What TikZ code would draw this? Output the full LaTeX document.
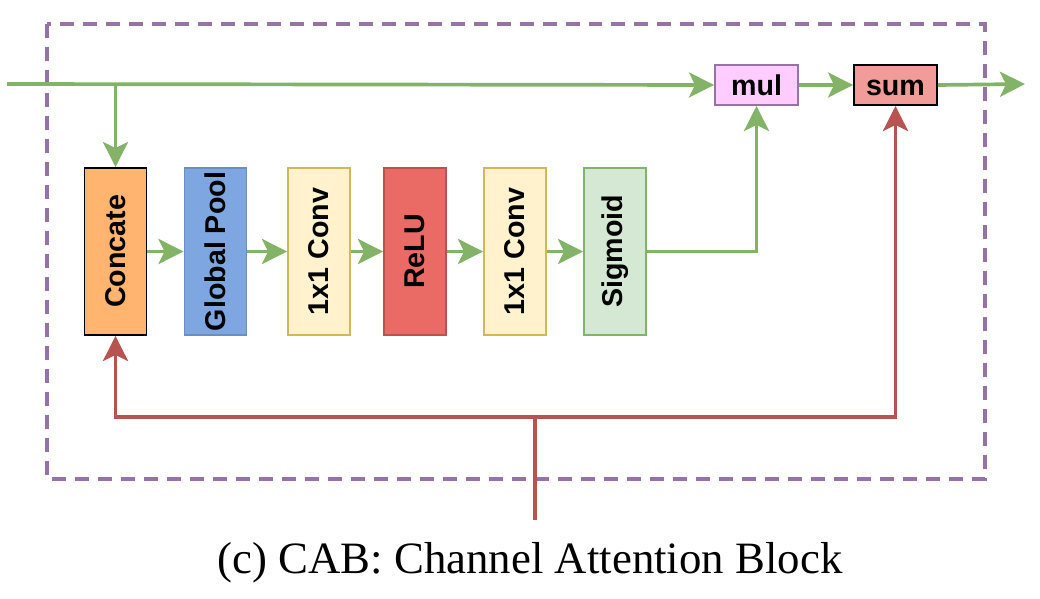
\documentclass[tikz,border=0pt]{standalone}
\usepackage{fontspec}
\setmainfont{Liberation Serif}
\setsansfont{Liberation Sans}
\usetikzlibrary{positioning,arrows.meta}
\definecolor{grn}{HTML}{82B366}
\definecolor{grnfill}{HTML}{D5E8D4}
\definecolor{rd}{HTML}{B85450}
\definecolor{rdfill}{HTML}{EA6B66}
\definecolor{prp}{HTML}{9673A6}
\definecolor{prpfill}{HTML}{FFCCFF}
\definecolor{orgfill}{HTML}{FFB570}
\definecolor{blu}{HTML}{6C8EBF}
\definecolor{blufill}{HTML}{7EA6E0}
\definecolor{ylw}{HTML}{D6B656}
\definecolor{ylwfill}{HTML}{FFF2CC}
\definecolor{sumfill}{HTML}{F19C99}
\tikzset{
blk/.style 2 args={
  rectangle,
  draw=#1,
  fill=#2,
  line width=1.1pt,
  rotate=90,
  minimum width=3.34cm,
  minimum height=1.24cm,
  font=\sffamily\bfseries\fontsize{16.3}{18}\selectfont,
  inner sep=0pt
  },
op/.style 2 args={
  rectangle,
  draw=#1,
  fill=#2,
  line width=1.1pt,
  minimum width=1.66cm,
  minimum height=0.8cm,
  text height=11.7pt,
  text depth=0pt,
  font=\sffamily\bfseries\fontsize{16.3}{18}\selectfont,
  inner sep=0pt
  },
gline/.style={draw=grn,line width=2.1pt},
rline/.style={draw=rd,line width=2.1pt}
}

\begin{document}
\begin{tikzpicture}[x=0.02cm,y=-0.02cm,
  >={Stealth[length=0.5cm,width=0.5cm,inset=0.12cm]}]
\useasboundingbox (0,0) rectangle (1040,598);
% dashed block frame
\draw[prp,line width=2.1pt,dash pattern=on 0.28cm off 0.18cm] (47,24) rectangle (985,479);
% channel attention chain (rotated boxes: west = bottom, east = top)
\node[blk={black}{orgfill}] (concat) at (115.5,251.5) {Concate};
\node[blk={blu}{blufill}]   (gpool)  at (215.5,251.5) {Global Pool};
\node[blk={ylw}{ylwfill}]   (conv1)  at (319,251.5)   {1x1 Conv};
\node[blk={rd}{rdfill}]     (relu)   at (415,251.5)   {ReLU};
\node[blk={ylw}{ylwfill}]   (conv2)  at (515,251.5)   {1x1 Conv};
\node[blk={grn}{grnfill}]   (sigm)   at (615,251.5)   {Sigmoid};
\node[op={prp}{prpfill}]    (mul)    at (756.5,85)    {mul};
\node[op={black}{sumfill}]  (sum)    at (895.5,85)    {sum};
\coordinate (in) at (7,84);
\coordinate (out) at (1025,84);
\coordinate (src) at (535,520);
\coordinate (split) at (535,417);
% green path
\draw[gline,->] (in) -- (mul.west);
\draw[gline,->] (concat.east |- in) -- (concat.east);
\draw[gline,->] (concat.south) -- (gpool.north);
\draw[gline,->] (gpool.south) -- (conv1.north);
\draw[gline,->] (conv1.south) -- (relu.north);
\draw[gline,->] (relu.south) -- (conv2.north);
\draw[gline,->] (conv2.south) -- (sigm.north);
\draw[gline,->] (sigm.south) -| (mul.south);
\draw[gline,->] (mul.east) -- (sum.west);
\draw[gline,->] (sum.east) -- (out);
% red path
\draw[rline,->] (src) -- (split) -| (concat.west);
\draw[rline,->] (split) -| (sum.south);
% caption
\node[font=\fontsize{25.5}{30}\selectfont] (cap) at (530,563) {(c) CAB: Channel Attention Block};
\end{tikzpicture}
\end{document}
